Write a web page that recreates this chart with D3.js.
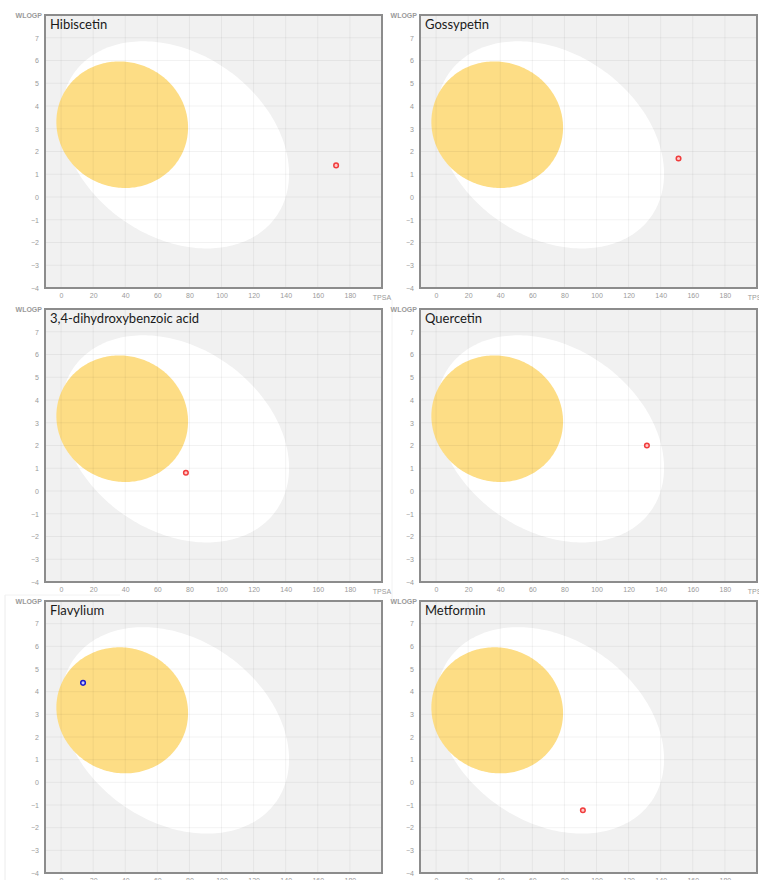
<!DOCTYPE html>
<html>
<head>
<meta charset="utf-8">
<script src="https://cdn.jsdelivr.net/npm/d3@7"></script>
<style>
  html, body { margin: 0; padding: 0; background: #ffffff; }
  svg { display: block; }
</style>
</head>
<body>
<svg id="chart" width="759" height="880"></svg>
<script>
// Molecules plotted on the BOILED-Egg (TPSA vs WLOGP)
const molecules = ["Hibiscetin", "Gossypetin", "3,4-dihydroxybenzoic acid", "Quercetin", "Flavylium", "Metformin"];
const tpsaValues = [171.4, 151.1, 77.8, 131.4, 13.7, 91.5];
const wlogpValues = [1.39, 1.69, 0.80, 2.00, 4.39, -1.23];
const pgpSubstrate = [false, false, false, false, true, false];

// Tick labels
const xTicks = [0, 20, 40, 60, 80, 100, 120, 140, 160, 180];
const yTicks = [-4, -3, -2, -1, 0, 1, 2, 3, 4, 5, 6, 7];

// Ellipse models: [centre TPSA, centre WLOGP, full axis TPSA, full axis WLOGP, rotation (deg)]
const whiteEllipse = [71.051, 2.292, 142.081, 8.740, -1.031325];
const yolkEllipse = [38.117, 3.177, 82.061, 5.557, -0.171887];

const svg = d3.select("#chart");

// Faint page edges
svg.append("line").attr("x1", 5).attr("x2", 5).attr("y1", 595).attr("y2", 880)
  .attr("stroke", "#ececec").attr("stroke-width", 1);
svg.append("line").attr("x1", 5).attr("x2", 120).attr("y1", 595).attr("y2", 595)
  .attr("stroke", "#f2f2f2").attr("stroke-width", 1);
svg.append("line").attr("x1", 392).attr("x2", 392).attr("y1", 300).attr("y2", 600)
  .attr("stroke", "#f2f2f2").attr("stroke-width", 1);

const panelW = 337, panelH = 273;
const lefts = [45, 420];
const tops = [15, 309, 601];

function ellipsePoints(e) {
  const [cx, cy, a, b, deg] = e;
  const th = deg * Math.PI / 180;
  const pts = [];
  for (let i = 0; i <= 240; i++) {
    const t = (i / 240) * 2 * Math.PI;
    const ex = (a / 2) * Math.cos(t), ey = (b / 2) * Math.sin(t);
    pts.push([cx + ex * Math.cos(th) - ey * Math.sin(th), cy + ex * Math.sin(th) + ey * Math.cos(th)]);
  }
  return pts;
}

molecules.forEach((name, i) => {
  const col = i % 2, row = Math.floor(i / 2);
  const h = row === 2 ? panelH - 1 : panelH;
  const g = svg.append("g").attr("transform", `translate(${lefts[col]},${tops[row]})`);

  const x = d3.scaleLinear().domain([-10, 200]).range([0, panelW]);
  const y = d3.scaleLinear().domain([-4, 8]).range([h, 0]);

  const clipId = "clip" + i;
  g.append("clipPath").attr("id", clipId)
    .append("rect").attr("width", panelW).attr("height", h);

  const plot = g.append("g").attr("clip-path", `url(#${clipId})`);
  plot.append("rect").attr("width", panelW).attr("height", h).attr("fill", "#f1f1f1");

  const line = d3.line().x(d => x(d[0])).y(d => y(d[1])).curve(d3.curveLinearClosed);
  plot.append("path").attr("d", line(ellipsePoints(whiteEllipse))).attr("fill", "#ffffff");
  plot.append("path").attr("d", line(ellipsePoints(yolkEllipse))).attr("fill", "#fddd85");

  // Grid
  plot.append("g").selectAll("line").data(xTicks.concat([200])).join("line")
    .attr("x1", d => x(d)).attr("x2", d => x(d)).attr("y1", 0).attr("y2", h)
    .attr("stroke", "#000").attr("stroke-opacity", 0.05).attr("stroke-width", 1);
  plot.append("g").selectAll("line").data(yTicks.concat([8])).join("line")
    .attr("y1", d => y(d)).attr("y2", d => y(d)).attr("x1", 0).attr("x2", panelW)
    .attr("stroke", "#000").attr("stroke-opacity", 0.05).attr("stroke-width", 1);

  // Molecule point
  const pgp = pgpSubstrate[i];
  plot.append("circle")
    .attr("cx", x(tpsaValues[i])).attr("cy", y(wlogpValues[i])).attr("r", 2.3)
    .attr("fill", pgp ? "#c8c8ff" : "#ffc8c8")
    .attr("stroke", pgp ? "#1a1acc" : "#f03c3c").attr("stroke-width", 1.5);

  // Frame
  g.append("rect").attr("width", panelW).attr("height", h)
    .attr("fill", "none").attr("stroke", "#8c8c8c").attr("stroke-width", 2);

  // Axis labels
  const xAxis = d3.axisBottom(x).tickValues(xTicks).tickSize(0).tickPadding(5);
  const xg = g.append("g").attr("transform", `translate(0,${h})`).call(xAxis);
  xg.select(".domain").remove();
  xg.selectAll("text").attr("fill", "#9a9a9a").style("font", "7px 'Liberation Sans', Arial, sans-serif");
  g.append("text").attr("x", x(200)).attr("y", h + 5 + 7)
    .attr("text-anchor", "middle").attr("fill", "#9a9a9a")
    .style("font", "7px 'Liberation Sans', Arial, sans-serif").text("TPSA");

  const yAxis = d3.axisLeft(y).tickValues(yTicks).tickSize(0).tickPadding(6);
  const yg = g.append("g").call(yAxis);
  yg.select(".domain").remove();
  yg.selectAll("text").attr("fill", "#9a9a9a").style("font", "7px 'Liberation Sans', Arial, sans-serif");
  g.append("text").attr("x", -3).attr("y", 2.5)
    .attr("text-anchor", "end").attr("fill", "#9a9a9a")
    .style("font", "bold 7px 'Liberation Sans', Arial, sans-serif").text("WLOGP");

  // Title
  g.append("text").attr("x", 5).attr("y", 14)
    .attr("fill", "#1a1a1a").style("font", "13px Lato, 'Open Sans', sans-serif").text(name);
});
</script>
</body>
</html>
